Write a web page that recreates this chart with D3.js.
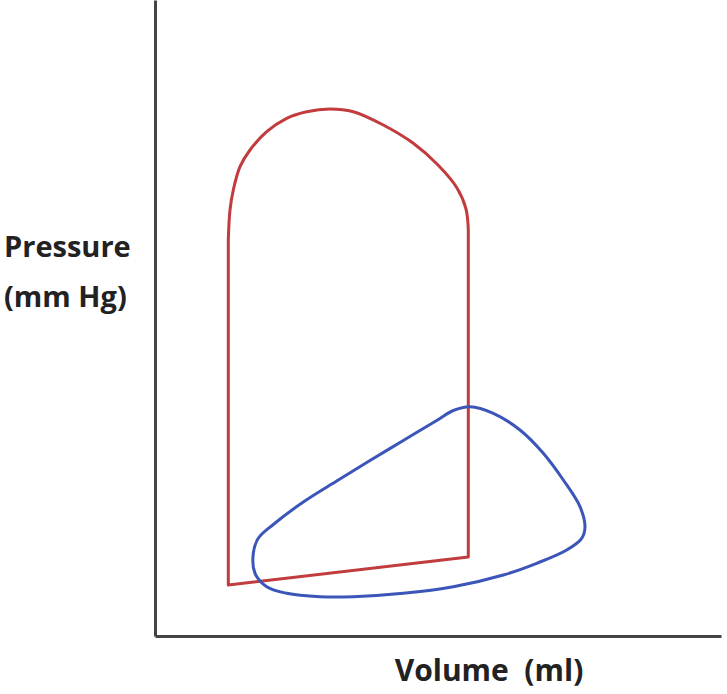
<!DOCTYPE html>
<html>
<head>
<meta charset="utf-8">
<script src="https://cdn.jsdelivr.net/npm/d3@7"></script>
<style>
  body { margin: 0; background: #fff; }
  text { font-family: "Open Sans", sans-serif; fill: #222; }
</style>
</head>
<body>
<svg class="pv"></svg>
<script>
// pressure-volume loops, values (volume, pressure)
const redLoopArc = [
    [14.66, 79.2], [15, 85.2], [15.66, 89.2], [17, 93.86], [19, 97.2], [22.34, 100.86],
    [26.34, 103.54], [30.34, 104.86], [35, 105.4], [39.66, 104.86], [45.66, 102.2],
    [51.66, 98.54], [56.6, 94.2], [60.4, 89.6], [62.2, 85.4], [62.66, 81.2]
];
const redLoopSides = [
    [62.66, 81.2], [62.66, 15.8], [14.66, 10.2], [14.66, 79.2]
];
const blueLoop = [
    [63, 45.86], [67.66, 44.54], [73, 41.2], [77.66, 36.54], [81.66, 31.2], [85, 25.86],
    [86, 21.86], [85.34, 19.54], [82.34, 17.2], [76.34, 14.54], [69.66, 12.2], [59.66, 9.86],
    [49.66, 8.54], [39.66, 7.86], [33, 7.86], [26.34, 8.54], [22.34, 9.86], [20, 12.54],
    [19.66, 16.54], [20.66, 19.54], [23.66, 22.3], [29.66, 26.8], [36.34, 31], [43, 35.1],
    [49.66, 39.1], [56.34, 43.1], [59.66, 45.1]
];
const yLabel = ['Pressure', '(mm Hg)'];
const xLabel = 'Volume\u00a0\u00a0(ml)';

const svgWidth = 727;
const svgHeight = 694;
const padding = {top: 0, left: 155, right: 6, bottom: 58};

const svg = d3.select('.pv')
    .attr('width', svgWidth)
    .attr('height', svgHeight);

const x = d3.scaleLinear()
    .domain([0, 113.2])
    .range([padding.left, svgWidth - padding.right]);

const y = d3.scaleLinear()
    .domain([0, 127.2])
    .range([svgHeight - padding.bottom, padding.top]);

// axes without ticks
svg.append('g')
    .attr('transform', `translate(0, ${y(0)})`)
    .call(d3.axisBottom(x).tickValues([]).tickSizeOuter(0))
    .select('.domain')
    .attr('stroke', '#444')
    .attr('stroke-width', 3);

svg.append('g')
    .attr('transform', `translate(${x(0)}, 0)`)
    .call(d3.axisLeft(y).tickValues([]).tickSizeOuter(0))
    .select('.domain')
    .attr('stroke', '#444')
    .attr('stroke-width', 3);

const line = d3.line()
    .x(d => x(d[0]))
    .y(d => y(d[1]));

const red = '#c23b3d';
const blue = '#3b55b9';

svg.append('path')
    .attr('d', line.curve(d3.curveLinear)(redLoopSides))
    .attr('fill', 'none')
    .attr('stroke', red)
    .attr('stroke-width', 3)
    .attr('stroke-linejoin', 'round');

svg.append('path')
    .attr('d', line.curve(d3.curveCatmullRom)(redLoopArc))
    .attr('fill', 'none')
    .attr('stroke', red)
    .attr('stroke-width', 3);

svg.append('path')
    .attr('d', line.curve(d3.curveCatmullRomClosed)(blueLoop))
    .attr('fill', 'none')
    .attr('stroke', blue)
    .attr('stroke-width', 3);

// axis titles
svg.append('text')
    .attr('x', 4)
    .attr('y', 257)
    .style('font-size', '29px')
    .style('font-weight', 700)
    .selectAll('tspan')
    .data(yLabel)
    .join('tspan')
    .attr('x', 4)
    .attr('dy', (d, i) => i ? 50 : 0)
    .text(d => d);

svg.append('text')
    .attr('x', 489)
    .attr('y', 681)
    .attr('text-anchor', 'middle')
    .style('font-size', '30px')
    .style('font-weight', 700)
    .text(xLabel);
</script>
</body>
</html>
